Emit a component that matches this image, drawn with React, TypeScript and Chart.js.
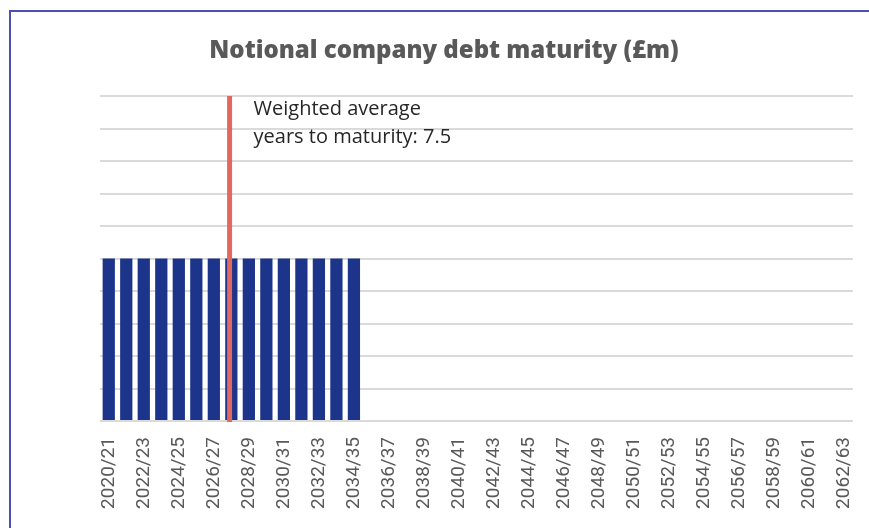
import React, { useEffect, useRef } from "react";
import { Chart, registerables } from "chart.js";

Chart.register(...registerables);

const TITLE = "Notional company debt maturity (£m)";

const categories = [
  "2020/21", "2021/22", "2022/23", "2023/24", "2024/25", "2025/26", "2026/27", "2027/28",
  "2028/29", "2029/30", "2030/31", "2031/32", "2032/33", "2033/34", "2034/35", "2035/36",
  "2036/37", "2037/38", "2038/39", "2039/40", "2040/41", "2041/42", "2042/43", "2043/44",
  "2044/45", "2045/46", "2046/47", "2047/48", "2048/49", "2049/50", "2050/51", "2051/52",
  "2052/53", "2053/54", "2054/55", "2055/56", "2056/57", "2057/58", "2058/59", "2059/60",
  "2060/61", "2061/62", "2062/63",
];

const debtValues = [
  5, 5, 5, 5, 5, 5, 5, 5, 5, 5, 5, 5, 5, 5, 5,
  0, 0, 0, 0, 0, 0, 0, 0, 0, 0, 0, 0, 0, 0, 0,
  0, 0, 0, 0, 0, 0, 0, 0, 0, 0, 0, 0, 0,
];

const yMax = 10;
const markerIndex = 6.9; // weighted average position on the category axis
const annotationLines = ["Weighted average", "years to maturity: 7.5"];

const markerPlugin = {
  id: "markerPlugin",
  afterDatasetsDraw(chart: any) {
    const { ctx, chartArea, scales } = chart;
    const x = scales.x.getPixelForValue(markerIndex);
    ctx.save();
    ctx.strokeStyle = "#e2675f";
    ctx.lineWidth = 5;
    ctx.beginPath();
    ctx.moveTo(x, chartArea.top);
    ctx.lineTo(x, chartArea.bottom + 1);
    ctx.stroke();

    ctx.fillStyle = "#262626";
    ctx.font = "20px 'Open Sans'";
    ctx.textAlign = "left";
    ctx.textBaseline = "alphabetic";
    ctx.fillText(annotationLines[0], x + 24, chartArea.top + 19);
    ctx.fillText(annotationLines[1], x + 24, chartArea.top + 47);

    ctx.fillStyle = "#595959";
    ctx.font = "800 24px 'Open Sans'";
    ctx.textAlign = "center";
    ctx.fillText(TITLE, 444, 58);
    ctx.restore();
  },
};

export default function App() {
  const canvasRef = useRef<HTMLCanvasElement | null>(null);

  useEffect(() => {
    if (!canvasRef.current) return;
    const chart = new Chart(canvasRef.current, {
      type: "bar",
      data: {
        labels: categories,
        datasets: [
          {
            data: debtValues,
            backgroundColor: "#1c3489",
            barPercentage: 0.7,
            categoryPercentage: 1,
          },
        ],
      },
      options: {
        animation: false,
        responsive: false,
        maintainAspectRatio: false,
        layout: { padding: { left: 100, right: 16, top: 96, bottom: 0 } },
        plugins: {
          legend: { display: false },
          title: { display: false },
          tooltip: { enabled: false },
        },
        scales: {
          x: {
            grid: { display: false },
            border: { display: false },
            afterFit: (scale: any) => {
              scale.height = 107;
              scale.paddingLeft = 0;
              scale.paddingRight = 0;
            },
            ticks: {
              autoSkip: false,
              minRotation: 90,
              maxRotation: 90,
              padding: 8,
              color: "#595959",
              font: { family: "Roboto", size: 19 },
              callback: (_v: any, i: number) => (i % 2 === 0 ? categories[i] : ""),
            },
          },
          y: {
            min: 0,
            max: yMax,
            border: { display: false },
            grid: { color: "#dadada", lineWidth: 2, drawTicks: false },
            ticks: { display: false, stepSize: 1 },
            afterFit: (scale: any) => {
              scale.width = 0;
            },
          },
        },
      },
      plugins: [markerPlugin],
    });
    return () => chart.destroy();
  }, []);

  return (
    <div style={{ position: "absolute", left: 0, top: 0, width: 869, height: 528, background: "#fff", overflow: "hidden" }}>
      <div
        style={{
          position: "absolute",
          left: 9,
          top: 10,
          width: 900,
          height: 600,
          borderTop: "2px solid #4a51b3",
          borderLeft: "2px solid #4a51b3",
        }}
      />
      <canvas ref={canvasRef} width={869} height={528} style={{ position: "absolute", left: 0, top: 0 }} />
    </div>
  );
}
